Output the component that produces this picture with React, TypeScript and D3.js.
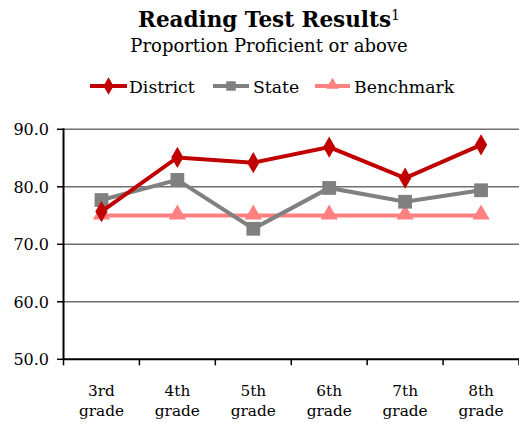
import React from "react";
import * as d3 from "d3";

const categories = ["3rd grade", "4th grade", "5th grade", "6th grade", "7th grade", "8th grade"];
const district = [75.7, 85.1, 84.2, 86.9, 81.5, 87.3];
const state = [77.7, 81.2, 72.7, 79.8, 77.4, 79.4];
const benchmark = [75, 75, 75, 75, 75, 75];
const yTicks = [50, 60, 70, 80, 90];

const W = 519, H = 425;
const M = { left: 63.5, right: 519, top: 129.3, bottom: 359.3 };
const FONT = "'DejaVu Serif', serif";

export default function App() {
  const x = d3.scaleBand<string>().domain(categories).range([M.left, M.right]).padding(0);
  const y = d3.scaleLinear().domain([50, 90]).range([M.bottom, M.top]);
  const cx = (c: string) => (x(c) as number) + x.bandwidth() / 2;
  const line = d3.line<number>().x((_, i) => cx(categories[i])).y((v) => y(v));

  const diamond = d3.symbol().type(d3.symbolDiamond).size(130)()!;
  const square = d3.symbol().type(d3.symbolSquare).size(190)()!;
  const tri = d3.symbol().type(d3.symbolTriangle).size(130)()!;

  const red = "#C00000", gray = "#808080", pink = "#FF8080";

  return (
    <svg width={W} height={H} style={{ position: "absolute", left: 0, top: 0 }}>
      <rect width={W} height={H} fill="#fff" />
      <text x={269} y={27} textAnchor="middle" fontFamily={FONT} fontSize={21.5} fontWeight="bold" fill="#000">
        Reading Test Results<tspan fontWeight="normal" fontSize={14} dy={-7}>1</tspan>
      </text>
      <text x={269} y={52} textAnchor="middle" fontFamily={FONT} fontSize={18} fill="#000">
        Proportion Proficient or above
      </text>
      {/* legend */}
      <g fontFamily={FONT} fontSize={17.3} fill="#000">
        <line x1={90} x2={127} y1={86} y2={86} stroke={red} strokeWidth={4} />
        <path d={d3.symbol().type(d3.symbolDiamond).size(90)()!} transform="translate(108.5,86)" fill={red} />
        <text x={129} y={92.5}>District</text>
        <line x1={213} x2={249} y1={86} y2={86} stroke={gray} strokeWidth={4} />
        <path d={d3.symbol().type(d3.symbolSquare).size(90)()!} transform="translate(231,86)" fill={gray} />
        <text x={253} y={92.5}>State</text>
        <line x1={315} x2={350} y1={86} y2={86} stroke={pink} strokeWidth={4} />
        <path d={d3.symbol().type(d3.symbolTriangle).size(70)()!} transform="translate(332.5,85)" fill={pink} />
        <text x={354} y={92.5}>Benchmark</text>
      </g>
      {/* gridlines */}
      {yTicks.filter((t) => t !== 50).map((t) => (
        <line key={t} x1={M.left} x2={M.right} y1={y(t)} y2={y(t)} stroke="#6e6e6e" strokeWidth={1.6} />
      ))}
      {/* y ticks & labels */}
      {yTicks.map((t) => (
        <g key={t}>
          <line x1={57} x2={M.left} y1={y(t)} y2={y(t)} stroke="#000" strokeWidth={1.5} />
          <text x={49} y={y(t) + 6} textAnchor="end" fontFamily={FONT} fontSize={16} fill="#000">
            {t.toFixed(1)}
          </text>
        </g>
      ))}
      {/* x ticks */}
      {categories.map((c) => (
        <line key={c} x1={(x(c) as number) + x.bandwidth()} x2={(x(c) as number) + x.bandwidth()} y1={M.bottom} y2={M.bottom + 6} stroke="#000" strokeWidth={1.5} />
      ))}
      <line x1={M.left} x2={M.left} y1={M.bottom + 6} y2={M.bottom} stroke="#000" strokeWidth={1.5} />
      {/* axes */}
      <line x1={M.left} x2={M.right} y1={M.bottom} y2={M.bottom} stroke="#000" strokeWidth={2} />
      <line x1={M.left} x2={M.left} y1={M.top - 1} y2={M.bottom} stroke="#000" strokeWidth={2} />
      {/* x labels */}
      {categories.map((c) => {
        const [a, b] = c.split(" ");
        return (
          <text key={c} textAnchor="middle" fontFamily={FONT} fontSize={15.3} fill="#000">
            <tspan x={cx(c)} y={396}>{a}</tspan>
            <tspan x={cx(c)} y={416}>{b}</tspan>
          </text>
        );
      })}
      {/* series */}
      <path d={line(benchmark)!} fill="none" stroke={pink} strokeWidth={4} />
      {benchmark.map((v, i) => (
        <path key={i} d={tri} transform={`translate(${cx(categories[i])},${y(v) - 1})`} fill={pink} />
      ))}
      <path d={line(state)!} fill="none" stroke={gray} strokeWidth={4} />
      {state.map((v, i) => (
        <path key={i} d={square} transform={`translate(${cx(categories[i])},${y(v)})`} fill={gray} />
      ))}
      <path d={line(district)!} fill="none" stroke={red} strokeWidth={4} />
      {district.map((v, i) => (
        <path key={i} d={diamond} transform={`translate(${cx(categories[i])},${y(v)})`} fill={red} />
      ))}
    </svg>
  );
}
